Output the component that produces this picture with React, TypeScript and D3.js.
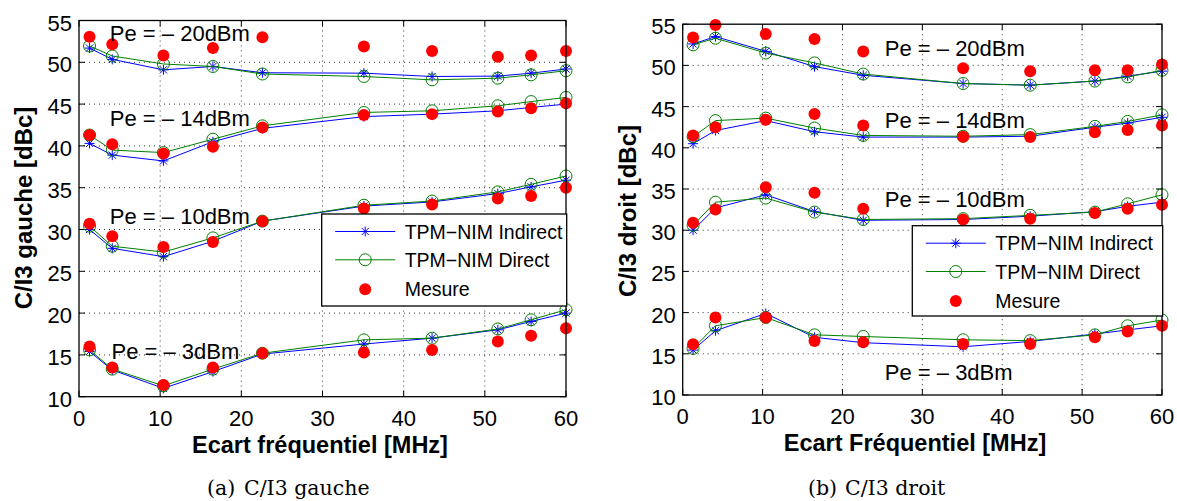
import React from "react";
import * as d3 from "d3";

// ---------- data ----------
const freqMHz = [1.3, 4.1, 10.4, 16.5, 22.6, 35.1, 43.5, 51.6, 55.7, 60];
const xTickValues = [0, 10, 20, 30, 40, 50, 60];
const yTickValues = [10, 15, 20, 25, 30, 35, 40, 45, 50, 55];
const seriesNames = ["TPM−NIM Indirect", "TPM−NIM Direct", "Mesure"];
const powerLabels = ["Pe = – 20dBm", "Pe = – 14dBm", "Pe = – 10dBm", "Pe = – 3dBm"];

// C/I3 gauche
const gaucheIndirect20 = [51.7, 50.35, 49.1, 49.5, 48.75, 48.7, 48.3, 48.35, 48.7, 49.2];
const gaucheDirect20 = [51.95, 50.75, 49.8, 49.5, 48.6, 48.3, 47.9, 48.1, 48.5, 49.0];
const gaucheMesure20 = [53.06, 52.15, 50.8, 51.7, 53.0, 51.9, 51.35, 50.67, 50.8, 51.35];
const gaucheIndirect14 = [40.3, 38.9, 38.2, 40.5, 42.1, 43.5, 43.8, 44.2, 44.6, 45.0];
const gaucheDirect14 = [41.3, 39.5, 39.2, 40.8, 42.4, 44.0, 44.2, 44.8, 45.3, 45.8];
const gaucheMesure14 = [41.3, 40.2, 39.1, 39.9, 42.2, 43.7, 43.8, 44.1, 44.5, 45.1];
const gaucheIndirect10 = [30.0, 27.75, 26.75, 28.6, 31.0, 32.8, 33.3, 34.3, 35.1, 35.9];
const gaucheDirect10 = [30.4, 28.0, 27.3, 29.0, 31.0, 32.9, 33.4, 34.5, 35.4, 36.4];
const gaucheMesure10 = [30.7, 29.2, 27.9, 28.5, 31.0, 32.5, 33.0, 33.7, 34.0, 35.0];
const gaucheIndirect3 = [15.4, 13.2, 11.0, 13.0, 15.1, 16.3, 17.0, 18.0, 19.0, 20.0];
const gaucheDirect3 = [15.6, 13.3, 11.3, 13.3, 15.2, 16.8, 17.0, 18.1, 19.2, 20.4];
const gaucheMesure3 = [16.0, 13.5, 11.4, 13.5, 15.2, 15.3, 15.6, 16.6, 17.3, 18.2];

// C/I3 droit
const droitIndirect20 = [52.6, 53.5, 51.7, 49.85, 48.8, 47.8, 47.6, 48.1, 48.7, 49.3];
const droitDirect20 = [52.5, 53.3, 51.5, 50.3, 48.95, 47.8, 47.6, 48.1, 48.6, 49.4];
const droitMesure20 = [53.4, 54.9, 53.8, 53.2, 51.7, 49.65, 49.3, 49.4, 49.4, 50.1];
const droitIndirect14 = [40.5, 42.1, 43.3, 41.95, 41.3, 41.3, 41.4, 42.5, 43.0, 43.7];
const droitDirect14 = [41.35, 43.3, 43.6, 42.4, 41.5, 41.4, 41.6, 42.6, 43.2, 44.0];
const droitMesure14 = [41.5, 42.5, 43.4, 44.1, 42.7, 41.35, 41.3, 41.9, 42.15, 42.7];
const droitIndirect10 = [30.0, 32.7, 34.3, 32.25, 31.2, 31.3, 31.7, 32.25, 32.9, 33.4];
const droitDirect10 = [30.6, 33.4, 33.9, 32.2, 31.3, 31.4, 31.8, 32.2, 33.2, 34.3];
const droitMesure10 = [30.9, 32.5, 35.2, 34.55, 32.6, 31.3, 31.4, 32.1, 32.6, 33.1];
const droitIndirect3 = [15.45, 17.8, 19.9, 17.0, 16.35, 15.85, 16.5, 17.4, 17.9, 18.4];
const droitDirect3 = [15.65, 18.4, 19.4, 17.3, 17.1, 16.7, 16.6, 17.3, 18.4, 19.1];
const droitMesure3 = [16.15, 19.4, 19.4, 16.55, 16.4, 16.2, 16.2, 17.0, 17.7, 18.4];

// ---------- layout ----------
const W = 1177;
const H = 501;
const SANS = "'Liberation Sans', Arial, Helvetica, sans-serif";
const BLUE = "#0000ff";
const GREEN = "#008000";
const RED = "#ff0000";

type Panel = {
  x0: number; x1: number; yTop: number; yBot: number;
  ylabel: string; xlabel: string; captionTag: string; captionText: string;
  ylabelX: number; ylabelY: number; xlabelX: number; captionX: number;
  indirect: number[][]; direct: number[][]; mesure: number[][];
  labelPos: [number, number][];
  legend: { x: number; y: number; w: number; h: number };
};

const panels: Panel[] = [
  {
    x0: 79, x1: 566, yTop: 20.5, yBot: 396.7,
    ylabel: "C/I3 gauche [dBc]", xlabel: "Ecart fréquentiel [MHz]",
    captionTag: "(a)", captionText: "C/I3 gauche",
    ylabelX: 32, ylabelY: 208, xlabelX: 320, captionX: 207,
    indirect: [gaucheIndirect20, gaucheIndirect14, gaucheIndirect10, gaucheIndirect3],
    direct: [gaucheDirect20, gaucheDirect14, gaucheDirect10, gaucheDirect3],
    mesure: [gaucheMesure20, gaucheMesure14, gaucheMesure10, gaucheMesure3],
    labelPos: [[3.8, 52.5], [3.8, 42.4], [3.8, 30.65], [4.0, 14.5]],
    legend: { x: 321.7, y: 214, w: 245, h: 92 },
  },
  {
    x0: 682.7, x1: 1162, yTop: 24.2, yBot: 395,
    ylabel: "C/I3 droit [dBc]", xlabel: "Ecart Fréquentiel [MHz]",
    captionTag: "(b)", captionText: "C/I3 droit",
    ylabelX: 636, ylabelY: 211, xlabelX: 915, captionX: 808,
    indirect: [droitIndirect20, droitIndirect14, droitIndirect10, droitIndirect3],
    direct: [droitDirect20, droitDirect14, droitDirect10, droitDirect3],
    mesure: [droitMesure20, droitMesure14, droitMesure10, droitMesure3],
    labelPos: [[25.3, 51.1], [25.3, 42.4], [25.3, 32.8], [25.3, 11.8]],
    legend: { x: 912.3, y: 225.7, w: 250.4, h: 90.3 },
  },
];

function Star({ x, y, r = 5 }: { x: number; y: number; r?: number }) {
  const d = r * 0.72;
  return (
    <g stroke={BLUE} strokeWidth={1}>
      <line x1={x - r} y1={y} x2={x + r} y2={y} />
      <line x1={x} y1={y - r} x2={x} y2={y + r} />
      <line x1={x - d} y1={y - d} x2={x + d} y2={y + d} />
      <line x1={x - d} y1={y + d} x2={x + d} y2={y - d} />
    </g>
  );
}

function PanelView({ p }: { p: Panel }) {
  const xs = d3.scaleLinear().domain([0, 60]).range([p.x0, p.x1]);
  const ys = d3.scaleLinear().domain([10, 55]).range([p.yBot, p.yTop]);
  const line = d3
    .line<number>()
    .x((_, i) => xs(freqMHz[i]))
    .y((v) => ys(v));
  const tickLen = 6;
  const lg = p.legend;
  const rowY = [lg.y + 17.5, lg.y + 45.8, lg.y + 75.3];
  const lx0 = lg.x + 13.5;
  const lx1 = lg.x + 73.5;
  const lxm = (lx0 + lx1) / 2;
  const ltx = lg.x + 83;
  return (
    <g>
      {/* grid */}
      <g stroke="#000" strokeWidth={0.8} strokeDasharray="1,4">
        {xTickValues.slice(1, -1).map((t) => (
          <line key={"gx" + t} x1={xs(t)} x2={xs(t)} y1={p.yTop} y2={p.yBot} />
        ))}
        {yTickValues.slice(1, -1).map((t) => (
          <line key={"gy" + t} x1={p.x0} x2={p.x1} y1={ys(t)} y2={ys(t)} />
        ))}
      </g>
      {/* ticks */}
      <g stroke="#000" strokeWidth={1}>
        {xTickValues.map((t) => (
          <g key={"tx" + t}>
            <line x1={xs(t)} x2={xs(t)} y1={p.yBot} y2={p.yBot - tickLen} />
            <line x1={xs(t)} x2={xs(t)} y1={p.yTop} y2={p.yTop + tickLen} />
          </g>
        ))}
        {yTickValues.map((t) => (
          <g key={"ty" + t}>
            <line x1={p.x0} x2={p.x0 + tickLen} y1={ys(t)} y2={ys(t)} />
            <line x1={p.x1} x2={p.x1 - tickLen} y1={ys(t)} y2={ys(t)} />
          </g>
        ))}
      </g>
      {/* tick labels */}
      <g fontFamily={SANS} fontSize={22} fill="#000">
        {xTickValues.map((t) => (
          <text key={"lx" + t} x={xs(t)} y={p.yBot + 29} textAnchor="middle">
            {t}
          </text>
        ))}
        {yTickValues.map((t) => (
          <text key={"ly" + t} x={p.x0 - 7} y={ys(t) + 10} textAnchor="end">
            {t}
          </text>
        ))}
      </g>
      {/* series */}
      {p.indirect.map((vals, k) => (
        <g key={"ind" + k}>
          <path d={line(vals) || ""} fill="none" stroke={BLUE} strokeWidth={1} />
          {vals.map((v, i) => (
            <Star key={i} x={xs(freqMHz[i])} y={ys(v)} />
          ))}
        </g>
      ))}
      {p.direct.map((vals, k) => (
        <g key={"dir" + k}>
          <path d={line(vals) || ""} fill="none" stroke={GREEN} strokeWidth={1} />
          {vals.map((v, i) => (
            <circle key={i} cx={xs(freqMHz[i])} cy={ys(v)} r={6} fill="none" stroke={GREEN} strokeWidth={1} />
          ))}
        </g>
      ))}
      {p.mesure.map((vals, k) => (
        <g key={"mes" + k}>
          {vals.map((v, i) => (
            <circle key={i} cx={xs(freqMHz[i])} cy={ys(v)} r={6} fill={RED} />
          ))}
        </g>
      ))}
      {/* power labels */}
      <g fontFamily={SANS} fontSize={22} fill="#000">
        {powerLabels.map((s, k) => (
          <text key={"pl" + k} x={xs(p.labelPos[k][0])} y={ys(p.labelPos[k][1])}>
            {s}
          </text>
        ))}
      </g>
      {/* axes box */}
      <rect x={p.x0} y={p.yTop} width={p.x1 - p.x0} height={p.yBot - p.yTop} fill="none" stroke="#000" strokeWidth={1.3} />
      {/* legend */}
      <g>
        <rect x={lg.x} y={lg.y} width={lg.w} height={lg.h} fill="#fff" stroke="#000" strokeWidth={1.3} />
        <line x1={lx0} x2={lx1} y1={rowY[0]} y2={rowY[0]} stroke={BLUE} strokeWidth={1} />
        <Star x={lxm} y={rowY[0]} />
        <line x1={lx0} x2={lx1} y1={rowY[1]} y2={rowY[1]} stroke={GREEN} strokeWidth={1} />
        <circle cx={lxm} cy={rowY[1]} r={6} fill="none" stroke={GREEN} strokeWidth={1} />
        <circle cx={lxm} cy={rowY[2]} r={6} fill={RED} />
        <g fontFamily={SANS} fontSize={19.5} fill="#000">
          {seriesNames.map((s, k) => (
            <text key={"lg" + k} x={ltx} y={rowY[k] + 7}>
              {s}
            </text>
          ))}
        </g>
      </g>
      {/* axis titles */}
      <text
        x={p.xlabelX}
        y={p.yBot + 56}
        textAnchor="middle"
        fontFamily={SANS}
        fontSize={23.5}
        fontWeight="bold"
      >
        {p.xlabel}
      </text>
      <text
        transform={`translate(${p.ylabelX},${p.ylabelY}) rotate(-90)`}
        textAnchor="middle"
        fontFamily={SANS}
        fontSize={24}
        fontWeight="bold"
      >
        {p.ylabel}
      </text>
      <g fontFamily="'DejaVu Serif', serif" fontSize={20.5} fill="#000">
        <text x={p.captionX} y={495}>{p.captionTag}</text>
        <text x={p.captionX + 37} y={495}>{p.captionText}</text>
      </g>
    </g>
  );
}

export default function App() {
  return (
    <div style={{ position: "absolute", left: 0, top: 0 }}>
      <svg width={W} height={H} viewBox={`0 0 ${W} ${H}`} style={{ display: "block", background: "#fff" }}>
        <rect x={0} y={0} width={W} height={H} fill="#fff" />
        {panels.map((p, i) => (
          <PanelView key={i} p={p} />
        ))}
      </svg>
    </div>
  );
}
